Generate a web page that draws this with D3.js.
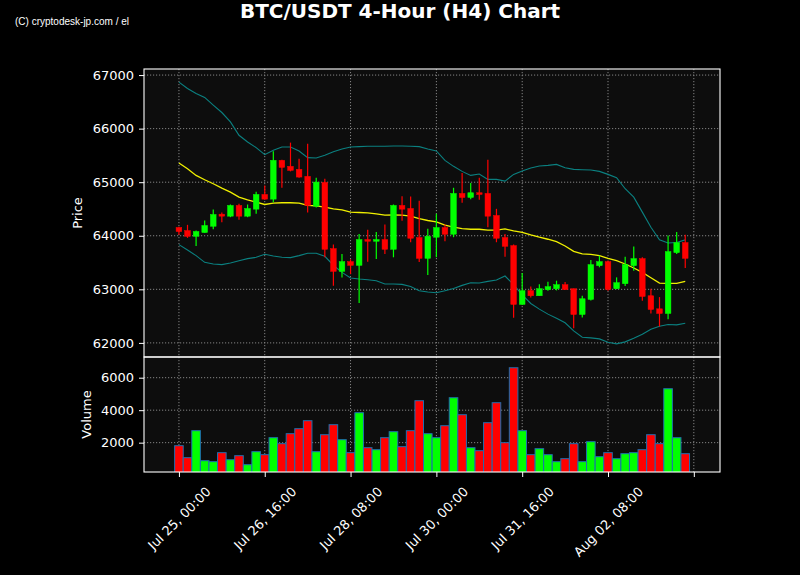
<!DOCTYPE html>
<html><head><meta charset="utf-8">
<script src="https://cdn.jsdelivr.net/npm/d3@7"></script>
<style>body{margin:0;background:#000;} svg{display:block}</style>
</head><body>
<svg id="c" width="800" height="575"></svg>
<script>
// ---- data ----
const times = [
 "Jul 25, 00:00","Jul 25, 04:00","Jul 25, 08:00","Jul 25, 12:00","Jul 25, 16:00","Jul 25, 20:00",
 "Jul 26, 00:00","Jul 26, 04:00","Jul 26, 08:00","Jul 26, 12:00","Jul 26, 16:00","Jul 26, 20:00",
 "Jul 27, 00:00","Jul 27, 04:00","Jul 27, 08:00","Jul 27, 12:00","Jul 27, 16:00","Jul 27, 20:00",
 "Jul 28, 00:00","Jul 28, 04:00","Jul 28, 08:00","Jul 28, 12:00","Jul 28, 16:00","Jul 28, 20:00",
 "Jul 29, 00:00","Jul 29, 04:00","Jul 29, 08:00","Jul 29, 12:00","Jul 29, 16:00","Jul 29, 20:00",
 "Jul 30, 00:00","Jul 30, 04:00","Jul 30, 08:00","Jul 30, 12:00","Jul 30, 16:00","Jul 30, 20:00",
 "Jul 31, 00:00","Jul 31, 04:00","Jul 31, 08:00","Jul 31, 12:00","Jul 31, 16:00","Jul 31, 20:00",
 "Aug 01, 00:00","Aug 01, 04:00","Aug 01, 08:00","Aug 01, 12:00","Aug 01, 16:00","Aug 01, 20:00",
 "Aug 02, 00:00","Aug 02, 04:00","Aug 02, 08:00","Aug 02, 12:00","Aug 02, 16:00","Aug 02, 20:00",
 "Aug 03, 00:00","Aug 03, 04:00","Aug 03, 08:00","Aug 03, 12:00","Aug 03, 16:00","Aug 03, 20:00"];
const open = [64154,64097,63991,64060,64178,64403,64366,64566,64366,64497,64771,64684,65408,65296,65240,65109,64553,64996,63760,63336,
 63517,63448,63929,63898,63929,63748,64566,64509,63966,63579,63973,64153,64029,64790,64715,64803,64790,64378,63966,63816,
 62718,62974,62880,62995,63011,63086,63011,62530,62811,63442,63517,63011,63105,63442,63573,62880,62636,62549,63685,63873];
const close = [64079,63991,64079,64191,64397,64366,64566,64366,64509,64771,64684,65408,65277,65221,65096,64566,65002,63748,63336,63517,
 63448,63929,63898,63929,63748,64566,64497,63954,63579,63991,64153,64029,64790,64715,64803,64771,64366,63954,63804,62718,
 62974,62880,63011,63049,63086,62995,62530,62824,63461,63517,63000,63124,63461,63573,62867,62624,62549,63704,63873,63579];
const high = [64170,64204,64097,64285,64491,64434,64584,64597,64584,64821,64940,65577,65421,65739,65439,65720,65084,65065,63835,63660,
 63560,64035,64110,64072,64210,64584,64740,64734,64653,64129,64409,64210,64896,65171,64984,65084,65421,64503,64035,63835,
 63304,63054,63093,63142,63161,63136,63011,62880,63548,63630,63536,63223,63610,63798,63598,63011,62855,64004,64072,64017];
const low = [64020,63960,63810,64055,64122,64253,64347,64297,64347,64409,64672,64628,64896,65202,65084,64434,64528,63598,63067,63223,
 63286,62743,63517,63567,63660,63598,64278,63879,63510,63267,63598,63898,63973,64615,64684,64672,64160,63879,63610,62468,
 62710,62849,62880,62974,62980,62995,62275,62474,62792,63411,62974,63005,63061,63348,62786,62549,62306,62443,63660,63398];
const volume = [1813,1075,2737,890,829,1383,952,1198,644,1444,1260,2306,1937,2552,2860,3352,1444,2490,3106,2183,
 1383,3844,1690,1567,2306,2675,1752,2737,4583,2552,2306,3044,4767,3721,1690,1506,3229,4460,1998,6613,
 2737,1260,1629,1260,829,1014,1937,829,2060,1137,1383,1014,1321,1383,1567,2490,1937,5321,2306,1321];
const sma = [65358,65252,65127,65046,64971,64890,64815,64721,64672,64628,64584,64609,64616,64616,64609,64566,64559,64534,64503,64484,
 64441,64434,64428,64409,64384,64391,64384,64366,64322,64285,64260,64197,64160,64135,64122,64122,64104,64104,64128,64091,
 64064,64016,63973,63935,63891,63810,63710,63660,63654,63630,63579,63536,63473,63398,63317,63217,63117,63111,63111,63149];
const upper = [66869,66750,66657,66582,66438,66301,66126,65876,65751,65645,65514,65595,65658,65658,65583,65458,65452,65502,65570,65620,
 65658,65664,65670,65670,65670,65677,65677,65670,65664,65620,65583,65408,65296,65202,65127,65152,65052,65052,65021,65146,
 65210,65265,65302,65315,65333,65271,65240,65233,65227,65202,65146,65084,64878,64721,64441,64160,63923,63866,63873,63923];
const lower = [63835,63735,63629,63504,63473,63461,63492,63535,63573,63598,63654,63623,63598,63592,63629,63673,63673,63617,63450,63317,
 63211,63192,63180,63161,63099,63099,63093,63054,62974,62949,62936,62974,63017,63074,63124,63118,63149,63174,63249,63086,
 62895,62736,62630,62537,62462,62375,62225,62106,62094,62075,62012,61981,62019,62087,62162,62256,62312,62343,62337,62368];
const xTickIndex = [0,10,20,30,40,50,60];
const xTickLabels = ["Jul 25, 00:00","Jul 26, 16:00","Jul 28, 08:00","Jul 30, 00:00","Jul 31, 16:00","Aug 02, 08:00",""];
const priceTicks = [62000,63000,64000,65000,66000,67000];
const volTicks = [2000,4000,6000];

// ---- layout ----
const L = 144, R = 720, T = 69, MID = 357, B = 472;
const svg = d3.select("#c");
const FONT = "DejaVu Sans, sans-serif";
svg.append("rect").attr("width",800).attr("height",575).attr("fill","#000");

const x = d3.scaleLinear().domain([-4.07, 63.05]).range([L, R]);
const bmin = d3.min(lower), bmax = d3.max(upper), pad = (bmax-bmin)*0.05;
const yP = d3.scaleLinear().domain([bmin-pad, bmax+pad]).range([MID, T]);
const yV = d3.scaleLinear().domain([0.3*d3.min(volume), 1.1*d3.max(volume)]).range([B, MID]);
const step = x(1)-x(0);

const defs = svg.append("defs");
defs.append("clipPath").attr("id","cpP").append("rect").attr("x",L).attr("y",T).attr("width",R-L).attr("height",MID-T);
defs.append("clipPath").attr("id","cpV").append("rect").attr("x",L).attr("y",MID).attr("width",R-L).attr("height",B-MID);

svg.append("rect").attr("x",L).attr("y",T).attr("width",R-L).attr("height",MID-T).attr("fill","#0d0d0d");
svg.append("rect").attr("x",L).attr("y",MID).attr("width",R-L).attr("height",B-MID).attr("fill","#0d0d0d");

// grid
const grid = svg.append("g").attr("stroke","#9a9a9a").attr("stroke-width",1).attr("stroke-dasharray","1.2,1.8").attr("opacity",0.85);
xTickIndex.forEach(i=>{
  grid.append("line").attr("x1",x(i)).attr("x2",x(i)).attr("y1",T).attr("y2",MID);
  grid.append("line").attr("x1",x(i)).attr("x2",x(i)).attr("y1",MID).attr("y2",B);
});
priceTicks.forEach(v=>grid.append("line").attr("x1",L).attr("x2",R).attr("y1",yP(v)).attr("y2",yP(v)));
volTicks.forEach(v=>grid.append("line").attr("x1",L).attr("x2",R).attr("y1",yV(v)).attr("y2",yV(v)));

// bands & sma
const gP = svg.append("g").attr("clip-path","url(#cpP)");
const line = d3.line().x((d,i)=>x(i)).y(d=>yP(d));
gP.append("path").attr("d",line(upper)).attr("fill","none").attr("stroke","#0b8080").attr("stroke-width",1.1);
gP.append("path").attr("d",line(lower)).attr("fill","none").attr("stroke","#0b8080").attr("stroke-width",1.1);
gP.append("path").attr("d",line(sma)).attr("fill","none").attr("stroke","#f0f000").attr("stroke-width",1.3);

// candles
const UP = "#00ff00", DN = "#ff0000";
const bw = step*0.66;
open.forEach((o,i)=>{
  const c = close[i], col = c>=o ? UP : DN;
  gP.append("line").attr("x1",x(i)).attr("x2",x(i)).attr("y1",yP(high[i])).attr("y2",yP(low[i]))
    .attr("stroke",col).attr("stroke-width",1.2);
  const yt = yP(Math.max(o,c)), yb = yP(Math.min(o,c));
  gP.append("rect").attr("x",x(i)-bw/2).attr("y",yt).attr("width",bw).attr("height",Math.max(1,yb-yt))
    .attr("fill",col).attr("stroke",col).attr("stroke-width",0.5);
});

// volume
const gV = svg.append("g").attr("clip-path","url(#cpV)");
volume.forEach((v,i)=>{
  const col = close[i]>=open[i] ? UP : DN;
  gV.append("rect").attr("x",x(i)-step/2).attr("y",yV(v)).attr("width",step).attr("height",B-yV(v)+2)
    .attr("fill",col).attr("stroke","#1f6fb0").attr("stroke-width",1);
});

// frames
svg.append("rect").attr("x",L).attr("y",T).attr("width",R-L).attr("height",MID-T).attr("fill","none").attr("stroke","#fff").attr("stroke-width",1.1);
svg.append("rect").attr("x",L).attr("y",MID).attr("width",R-L).attr("height",B-MID).attr("fill","none").attr("stroke","#fff").attr("stroke-width",1.1);

function styleAxis(g){
  g.select(".domain").remove();
  g.selectAll(".tick line").attr("stroke","#fff").attr("stroke-width",1);
  g.selectAll(".tick text").attr("fill","#fff").attr("font-family",FONT).attr("font-size",13);
}
svg.append("g").attr("transform",`translate(${L},0)`)
  .call(d3.axisLeft(yP).tickValues(priceTicks).tickFormat(d3.format("d")).tickSize(5).tickPadding(5)).call(styleAxis);
svg.append("g").attr("transform",`translate(${L},0)`)
  .call(d3.axisLeft(yV).tickValues(volTicks).tickFormat(d3.format("d")).tickSize(5).tickPadding(5)).call(styleAxis);
const gx = svg.append("g").attr("transform",`translate(0,${B})`)
  .call(d3.axisBottom(x).tickValues(xTickIndex).tickFormat((d,k)=>xTickLabels[k]).tickSize(5)).call(styleAxis);
gx.selectAll(".tick text").each(function(){
  const t = d3.select(this);
  const w = this.getComputedTextLength(), h = 15;
  const cy = 484 - B + (w+h)/(2*Math.SQRT2);
  t.attr("y",null).attr("dy",null).attr("text-anchor","middle").attr("dominant-baseline","central")
   .attr("transform",`translate(0,${cy}) rotate(-45)`);
});

// labels
svg.append("text").attr("transform",`translate(82,${(T+MID)/2}) rotate(-90)`).attr("text-anchor","middle")
  .attr("fill","#fff").attr("font-family",FONT).attr("font-size",13).text("Price");
svg.append("text").attr("transform",`translate(91,${(MID+B)/2}) rotate(-90)`).attr("text-anchor","middle")
  .attr("fill","#fff").attr("font-family",FONT).attr("font-size",13).text("Volume");
svg.append("text").attr("x",400).attr("y",18).attr("text-anchor","middle").attr("fill","#fff")
  .attr("font-family",FONT).attr("font-weight","bold").attr("font-size",20).text("BTC/USDT 4-Hour (H4) Chart");
svg.append("text").attr("x",15).attr("y",24.5).attr("fill","#fff")
  .attr("font-family","Liberation Sans Narrow, Liberation Sans, sans-serif").attr("font-size",11.5)
  .attr("textLength",114).attr("lengthAdjust","spacingAndGlyphs").text("(C) cryptodesk-jp.com / el");
</script>
</body></html>
